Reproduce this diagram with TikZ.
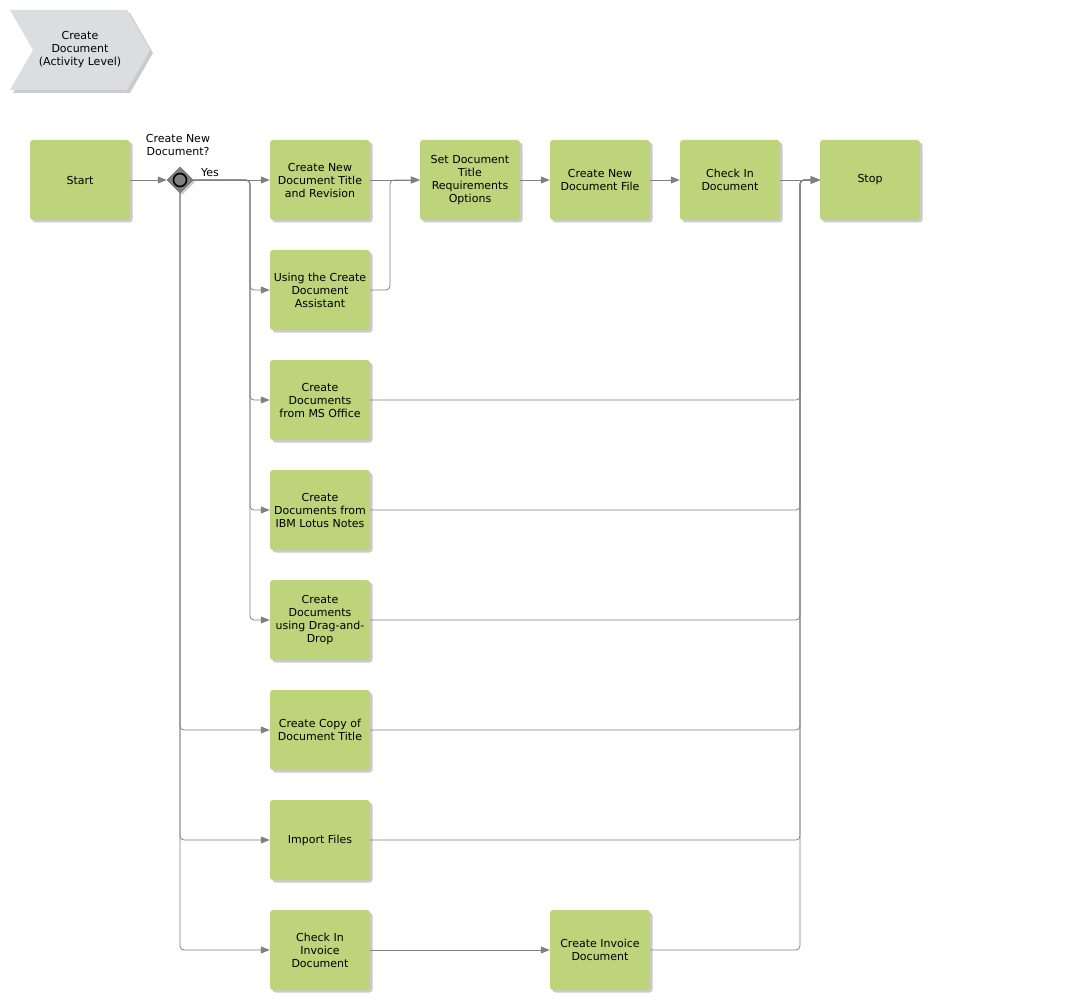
\documentclass[tikz,border=0pt]{standalone}
\usepackage{fontspec}
\setmainfont{DejaVu Sans}
\usetikzlibrary{shapes.geometric,shadows,arrows.meta}
\definecolor{boxgreen}{RGB}{189,212,123}
\definecolor{chevgray}{RGB}{220,221,224}
\definecolor{linegray}{RGB}{128,128,128}
\definecolor{shadowgray}{RGB}{190,190,190}
\begin{document}
\begin{tikzpicture}[x=1pt,y=-1pt,
  every node/.style={font=\fontsize{11}{13}\selectfont},
  act/.style={draw=none, fill=boxgreen, rounded corners=3pt, minimum width=100pt, minimum height=80pt, align=center, inner sep=1pt,
    drop shadow={shadow xshift=2.5pt, shadow yshift=-2.5pt, fill=shadowgray, opacity=0.8}},
  conn/.style={draw=linegray, line width=0.8pt, rounded corners=4pt, -{Triangle[length=9pt,width=7pt]}},
]
\useasboundingbox (0,0) rectangle (1070,1000);

% chevron
\fill[shadowgray, opacity=0.8] (13,13) -- (130,13) -- (153,53) -- (130,93) -- (13,93) -- (36,53) -- cycle;
\fill[chevgray] (10,10) -- (127,10) -- (150,50) -- (127,90) -- (10,90) -- (33,50) -- cycle;
\node[align=center] (chev) at (80,50) {Create\\Document\\(Activity Level)};

% nodes
\node[act] (start) at (80,180) {Start};
\node[diamond, fill=linegray, draw=linegray!80!black, line width=0.5pt, minimum width=26pt, minimum height=26pt, inner sep=0pt,
  drop shadow={shadow xshift=2pt, shadow yshift=-2pt, fill=shadowgray, opacity=0.8}] (gw) at (180,180) {};
\draw[black, line width=1.6pt, fill=linegray] (gw.center) circle (6.5pt);
\node[align=center] (gwlabel) at (178,145) {Create New\\Document?};
\node (yes) at (210,173) {Yes};

\node[act] (b1) at (320,180) {Create New\\Document Title\\and Revision};
\node[act] (b2) at (320,290) {Using the Create\\Document\\Assistant};
\node[act] (b3) at (320,400) {Create\\Documents\\from MS Office};
\node[act] (b4) at (320,510) {Create\\Documents from\\IBM Lotus Notes};
\node[act] (b5) at (320,620) {Create\\Documents\\using Drag-and-\\Drop};
\node[act] (b6) at (320,730) {Create Copy of\\Document Title};
\node[act] (b7) at (320,840) {Import Files};
\node[act] (b8) at (320,950) {Check In\\Invoice\\Document};
\node[act] (set) at (470,180) {Set Document\\Title\\Requirements\\Options};
\node[act] (newfile) at (600,180) {Create New\\Document File};
\node[act] (checkin) at (730,180) {Check In\\Document};
\node[act] (stop) at (870,180) {Stop};
\node[act] (inv) at (600,950) {Create Invoice\\Document};

% junction coordinates
\coordinate (j1) at (250,180);
\coordinate (j2) at (390,180);
\coordinate (j3) at (800,180);

% connectors
\draw[conn] (start.east) -- (gw.west);
\draw[conn] (gw.east) -- (b1.west);
\draw[conn] (gw.east) -- (j1) |- (b2.west);
\draw[conn] (gw.east) -- (j1) |- (b3.west);
\draw[conn] (gw.east) -- (j1) |- (b4.west);
\draw[conn] (gw.east) -- (j1) |- (b5.west);
\draw[conn] (gw.south) |- (b6.west);
\draw[conn] (gw.south) |- (b7.west);
\draw[conn] (gw.south) |- (b8.west);

\draw[conn] (b1.east) -- (set.west);
\draw[conn] (b2.east) -| (j2) -- (set.west);
\draw[conn] (set.east) -- (newfile.west);
\draw[conn] (newfile.east) -- (checkin.west);
\draw[conn] (checkin.east) -- (stop.west);
\draw[conn] (b3.east) -| (j3) -- (stop.west);
\draw[conn] (b4.east) -| (j3) -- (stop.west);
\draw[conn] (b5.east) -| (j3) -- (stop.west);
\draw[conn] (b6.east) -| (j3) -- (stop.west);
\draw[conn] (b7.east) -| (j3) -- (stop.west);
\draw[conn] (inv.east) -| (j3) -- (stop.west);
\draw[conn] (b8.east) -- (inv.west);
\end{tikzpicture}
\end{document}
